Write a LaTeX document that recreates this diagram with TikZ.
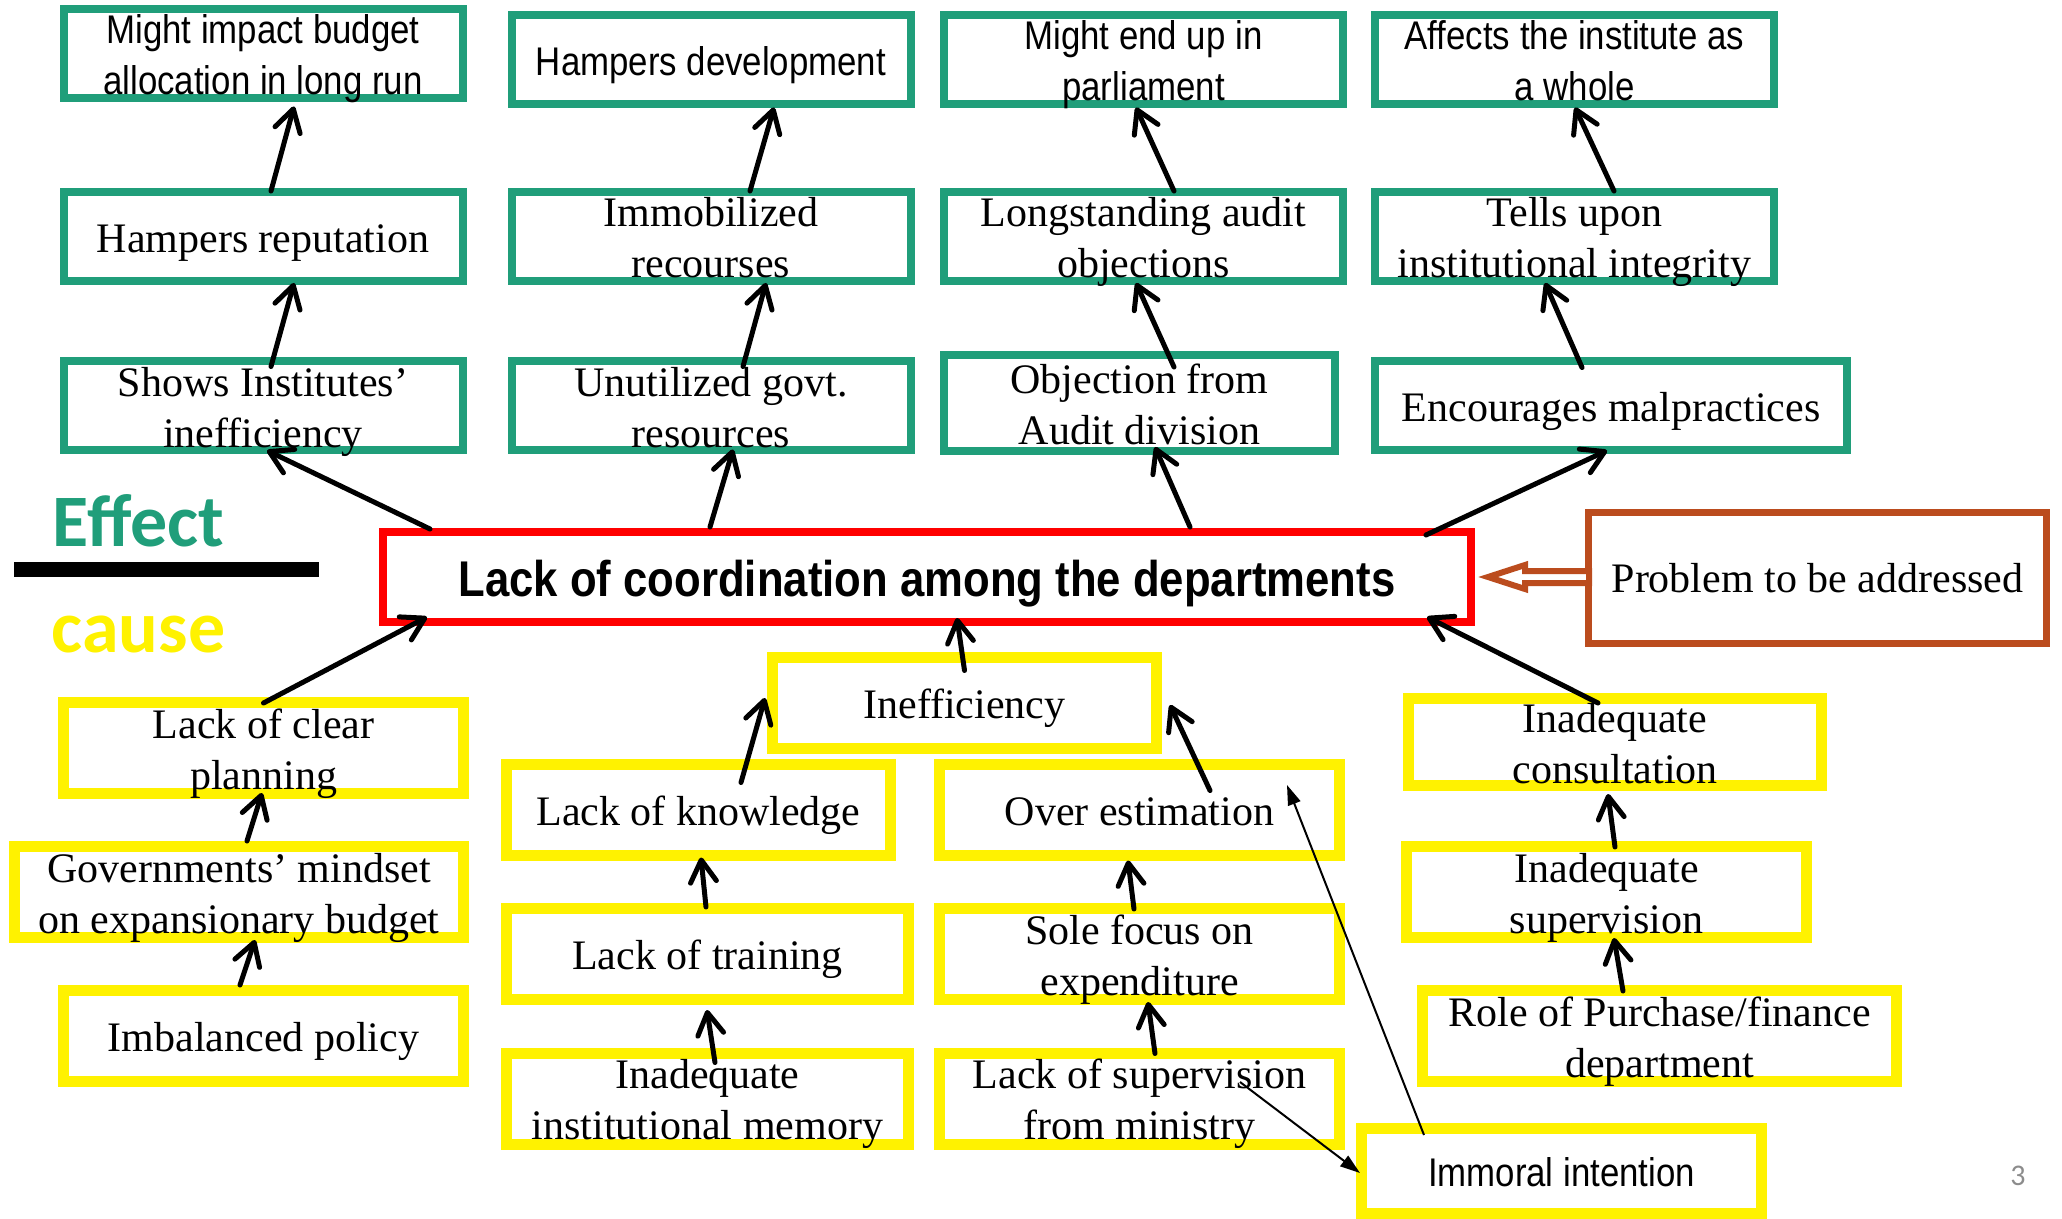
\documentclass[tikz,border=0pt]{standalone}
\usepackage{fontspec}
\setmainfont{Liberation Serif}
\newfontfamily\narrowsf[FakeStretch=0.87]{Liberation Sans}
\newfontfamily\calibrisf{Carlito}
\usetikzlibrary{arrows.meta,calc}

\definecolor{effgreen}{RGB}{32,158,122}
\definecolor{probbrown}{RGB}{187,76,30}
\definecolor{pagegray}{RGB}{140,140,140}

% fixed line heights, so the text sits as in the slide
\newcommand{\topstrut}{\rule{0pt}{0.98em}}
\newcommand{\botstrut}{\rule[-0.22em]{0pt}{0.22em}}

\tikzset{
  lowtext/.style={execute at begin node={\topstrut}, execute at end node={\botstrut}},
  effbox/.style={draw=effgreen, line width=4pt, inner xsep=0pt, inner ysep=-8pt, minimum width=199.5pt,
    minimum height=44.5pt, align=center, font=\fontsize{21}{25.5}\selectfont, lowtext},
  causebox/.style={draw=yellow, line width=5.5pt, inner xsep=0pt, inner ysep=-8pt, minimum width=200pt,
    minimum height=45.5pt, align=center, font=\fontsize{21}{25.5}\selectfont, lowtext},
  narrowtext/.style={font=\narrowsf\fontsize{20}{25.5}\selectfont},
  upar/.style={line width=2.5pt, line cap=round, -{Straight Barb[length=11pt,width=13pt,round]}},
  thinar/.style={line width=1pt, -{Triangle[length=10pt,width=6.5pt]}},
}

\begin{document}
\begin{tikzpicture}[x=0.5pt, y=-0.5pt]
        \useasboundingbox (0,0) rectangle (2062,1219);

        % Effects, top row
        \node[effbox, narrowtext] (a1) at (263,54) {\topstrut Might impact budget\\allocation in long run\botstrut};
        \node[effbox, narrowtext] (a2) at (711,60) {Hampers development};
        \node[effbox, narrowtext] (a3) at (1143.5,60) {\topstrut Might end up in\\parliament\botstrut};
        \node[effbox, narrowtext] (a4) at (1574.5,60) {\topstrut Affects the institute as\\a whole\botstrut};

        % Effects, middle row
        \node[effbox] (b1) at (263,236.5) {Hampers reputation};
        \node[effbox] (b2) at (711,236.5) {\topstrut Immobilized\\recourses\botstrut};
        \node[effbox] (b3) at (1143.5,236.5) {\topstrut Longstanding audit\\objections\botstrut};
        \node[effbox] (b4) at (1574.5,236.5) {\topstrut Tells upon\\institutional integrity\botstrut};

        % Effects, lower row
        \node[effbox] (c1) at (263,406) {\topstrut Shows Institutes’\\inefficiency\botstrut};
        \node[effbox] (c2) at (711,406) {\topstrut Unutilized govt.\\resources\botstrut};
        \node[effbox, minimum width=195.5pt, minimum height=48pt] (c3) at (1139.5,403) {\topstrut Objection from\\Audit division\botstrut};
        \node[effbox, minimum width=236pt] (c4) at (1611,406) {Encourages malpractices};

        % The problem
        \node[draw=red, line width=4pt, inner sep=0pt, minimum width=544pt, minimum height=45pt,
          font=\narrowsf\bfseries\fontsize{25.1}{30}\selectfont, execute at begin node={\topstrut}] (core) at (927,577)
          {Lack of coordination among the departments};
        \node[draw=probbrown, line width=3.5pt, inner sep=0pt, minimum width=229pt, minimum height=65.5pt,
          font=\fontsize{21}{25}\selectfont] (prob) at (1817.5,578) {Problem to be addressed};
        \draw[draw=probbrown, fill=white, line width=3pt, shift={(core.east)}]
          (13,0) -- (50,-12) -- (50,-6) -- (114,-6) -- (114,6) -- (50,6) -- (50,12) -- cycle;

        % Effect / cause labels
        \node[font=\calibrisf\bfseries\fontsize{37}{44}\selectfont, text=effgreen, anchor=base] (efflbl) at (138.5,546) {Effect};
        \fill (14,562) rectangle (319,577);
        \node[font=\calibrisf\bfseries\fontsize{37}{44}\selectfont, text=yellow, anchor=base] (causelbl) at (138.5,652) {cause};

        % Causes
        \node[causebox] (d1) at (263.5,748) {\topstrut Lack of clear\\planning\botstrut};
        \node[causebox, minimum width=224.5pt] (d2) at (239,892) {\topstrut Governments’ mindset\\on expansionary budget\botstrut};
        \node[causebox] (d3) at (263.5,1036) {Imbalanced policy};
        \node[causebox, minimum width=192pt] (ineff) at (964.5,702.5) {Inefficiency};
        \node[causebox, minimum width=192pt] (e1) at (698.5,809.5) {Lack of knowledge};
        \node[causebox, minimum width=201pt] (e2) at (707.5,954) {Lack of training};
        \node[causebox, minimum width=201pt] (e3) at (707.5,1098.5) {\topstrut Inadequate\\institutional memory\botstrut};
        \node[causebox] (f1) at (1139.5,809.5) {Over estimation};
        \node[causebox] (f2) at (1139.5,954) {\topstrut Sole focus on\\expenditure\botstrut};
        \node[causebox] (f3) at (1139.5,1098.5) {\topstrut Lack of supervision\\from ministry\botstrut};
        \node[causebox, minimum width=206.5pt, minimum height=43.5pt] (g1) at (1615,742) {\topstrut Inadequate\\consultation\botstrut};
        \node[causebox] (g2) at (1606.5,892) {\topstrut Inadequate\\supervision\botstrut};
        \node[causebox, minimum width=237pt] (g3) at (1659.5,1036) {\topstrut Role of Purchase/finance\\department\botstrut};
        \node[causebox, narrowtext, minimum height=42.5pt] (imm) at (1561.5,1171) {Immoral intention};

        \node[font=\calibrisf\fontsize{15}{18}\selectfont, text=pagegray, anchor=base] (pnum) at (2018,1185) {3};

        % Effect chains
        \draw[upar] ($(c1.north)+(8,9)$) -- ($(b1.south)+(31,-2)$);
        \draw[upar] ($(b1.north)+(8,3)$) -- ($(a1.south)+(31,4)$);
        \draw[upar] ($(c2.north)+(32,9)$) -- ($(b2.south)+(55,-2)$);
        \draw[upar] ($(b2.north)+(39,3)$) -- ($(a2.south)+(63,-1)$);
        \draw[upar] ($(c3.north)+(34.5,16)$) -- ($(b3.south)+(-7.5,-2)$);
        \draw[upar] ($(b3.north)+(30.5,3)$) -- ($(a3.south)+(-7.5,-1)$);
        \draw[upar] ($(c4.north)+(-29,10)$) -- ($(b4.south)+(-29.5,-2)$);
        \draw[upar] ($(b4.north)+(39.5,3)$) -- ($(a4.south)+(0.5,-1)$);

        % Problem to effects
        \draw[upar] ($(core.north west)+(51,1)$) -- ($(c1.south)+(4,-4)$);
        \draw[upar] ($(core.north)+(-217,-1)$) -- ($(c2.south)+(22,-5)$);
        \draw[upar] ($(core.north)+(263,-1)$) -- ($(c3.south)+(15.5,-8)$);
        \draw[upar] ($(core.north east)+(-49,7)$) -- ($(c4.south)+(-4,-4)$);

        % Causes to problem
        \draw[upar] ($(d1.north)+(0,6)$) -- ($(core.south west)+(48,-9)$);
        \draw[upar] ($(ineff.north)+(0,19)$) -- ($(core.south)+(30,-8)$);
        \draw[upar] ($(g1.north)+(-17,10)$) -- ($(core.south east)+(-48,-9)$);
        \draw[upar] ($(d2.north)+(8,0)$) -- ($(d1.south)+(-1.5,-6)$);
        \draw[upar] ($(d3.north)+(-23.5,0)$) -- ($(d2.south)+(16,-3)$);
        \draw[upar] ($(e1.north)+(42.5,24)$) -- ($(ineff.west)+(-2,-4.5)$);
        \draw[upar] ($(e2.north)+(-1.5,4)$) -- ($(e1.south)+(2.5,-3)$);
        \draw[upar] ($(e3.north)+(7.5,15)$) -- ($(e2.south)+(-0.5,5)$);
        \draw[upar] ($(f1.north)+(70.5,32)$) -- ($(ineff.east)+(8,2.5)$);
        \draw[upar] ($(f2.north)+(-5.5,6)$) -- ($(f1.south)+(-11.5,0)$);
        \draw[upar] ($(f3.north)+(15.5,6)$) -- ($(f2.south)+(8.5,-3)$);
        \draw[upar] ($(g2.north)+(8.5,6)$) -- ($(g1.south)+(-7,3)$);
        \draw[upar] ($(g3.north)+(-36.5,6)$) -- ($(g2.south)+(7.5,-5)$);
        \draw[thinar] ($(imm.north)+(-137.5,12)$) -- ($(f1.east)+(-58,-24.5)$);
        \draw[thinar] ($(f3.center)+(100.5,-16.5)$) -- ($(imm.west)+(4,2)$);
\end{tikzpicture}
\end{document}
